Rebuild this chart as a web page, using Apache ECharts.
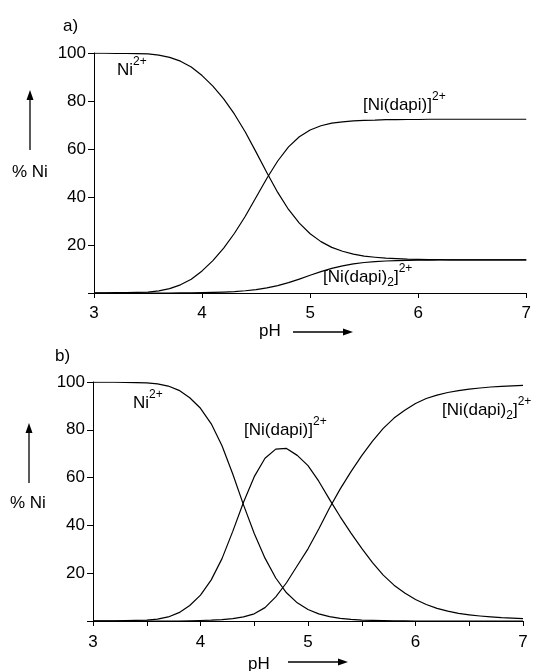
<!DOCTYPE html>
<html>
<head>
<meta charset="utf-8">
<script src="https://cdn.jsdelivr.net/npm/echarts@6/dist/echarts.min.js"></script>
<style>
html,body{margin:0;padding:0;background:#fff;}
#chart{width:534px;height:671px;}
</style>
</head>
<body>
<div id="chart"></div>
<script>
// pH values (x)
const pH = [3.0,3.1,3.2,3.3,3.4,3.5,3.6,3.7,3.8,3.9,
            4.0,4.1,4.2,4.3,4.4,4.5,4.6,4.7,4.8,4.9,
            5.0,5.1,5.2,5.3,5.4,5.5,5.6,5.7,5.8,5.9,
            6.0,6.1,6.2,6.3,6.4,6.5,6.6,6.7,6.8,6.9,7.0];

// panel a)
const aNi   = [99.9,99.9,99.8,99.8,99.7,99.6,99.1,98.2,96.6,94.2,
               90.6,86.2,80.9,74.5,67.1,58.7,50.1,41.9,34.8,29.1,
               24.7,21.4,19.0,17.4,16.2,15.4,14.9,14.5,14.3,14.1,
               14.0,13.9,13.9,13.8,13.8,13.8,13.8,13.8,13.8,13.8,13.8];
const aNiL  = [0.1,0.1,0.2,0.2,0.3,0.4,0.9,1.8,3.4,5.7,
               9.2,13.5,18.7,24.9,32.0,39.9,47.8,55.0,60.9,65.1,
               67.9,69.7,70.8,71.3,71.7,71.9,72.0,72.2,72.2,72.3,
               72.3,72.4,72.4,72.4,72.4,72.4,72.4,72.4,72.4,72.4,72.4];
const aNiL2 = [0,0,0,0,0,0,0,0,0.05,0.1,
               0.16,0.25,0.39,0.6,0.93,1.42,2.12,3.09,4.33,5.8,
               7.38,8.9,10.24,11.32,12.13,12.7,13.08,13.33,13.5,13.61,
               13.67,13.72,13.75,13.77,13.78,13.8,13.8,13.8,13.8,13.8,13.8];

// panel b)
const bNi   = [99.9,99.9,99.9,99.8,99.7,99.6,99.2,98.3,96.5,93.4,
               89.0,82.5,73.3,61.5,48.6,36.6,26.3,18.0,11.8,7.6,
               4.8,3.0,1.8,1.1,0.7,0.4,0.25,0.15,0.1,0.05,
               0,0,0,0,0,0,0,0,0,0,0];
const bNiL  = [0.1,0.1,0.1,0.2,0.3,0.4,0.8,1.7,3.5,6.5,
               10.8,17.2,26.1,37.5,49.7,60.4,68.1,71.9,72.2,69.3,
               65.0,58.5,50.9,43.6,36.8,30.4,24.4,19.2,15.0,11.7,
               9.0,6.9,5.3,4.1,3.2,2.6,2.1,1.7,1.4,1.2,1.0];
const bNiL2 = [0,0,0,0,0,0,0,0,0,0.1,
               0.2,0.35,0.6,1.0,1.7,3.0,5.6,10.1,16.0,23.1,
               30.2,38.5,47.3,55.3,62.5,69.2,75.3,80.6,84.9,88.2,
               91.0,93.1,94.5,95.6,96.4,97.0,97.5,97.9,98.2,98.4,98.6];

const yTicks = [0,20,40,60,80,100];

const FONT = '"Liberation Sans", Arial, Helvetica, sans-serif';
const chart = echarts.init(document.getElementById('chart'), null, {renderer:'canvas'});

function xAx(grid, interval){
  return {
    gridIndex: grid, type:'value', min:3, max:7, interval: interval,
    axisLine:{show:true, onZero:false, lineStyle:{color:'#000', width:1}},
    axisTick:{show:true, inside:false, length:5, lineStyle:{color:'#000', width:1}},
    axisLabel:{show:true, color:'#000', fontSize:17, fontFamily:FONT, margin: grid===0?12:13,
      showMinLabel:true, showMaxLabel:true,
      formatter: v => (Math.abs(v - Math.round(v)) < 1e-6) ? String(Math.round(v)) : ''},
    splitLine:{show:false}
  };
}
function yAx(grid){
  return {
    gridIndex: grid, type:'value', min:yTicks[0], max:yTicks[yTicks.length-1], interval:20,
    axisLine:{show:true, onZero:false, lineStyle:{color:'#000', width:1}},
    axisTick:{show:true, inside:false, length:6, lineStyle:{color:'#000', width:1}},
    axisLabel:{show:true, color:'#000', fontSize:17, fontFamily:FONT, margin:8,
      showMinLabel:true, showMaxLabel:true,
      formatter: v => v === 0 ? '' : String(v)},
    splitLine:{show:false}
  };
}
function ser(xi, arr){
  return {
    type:'line', xAxisIndex:xi, yAxisIndex:xi,
    data: pH.map((x,i)=>[x, arr[i]]),
    showSymbol:false, symbol:'none', smooth:false,
    lineStyle:{color:'#000', width:1.2, join:'round'}, silent:true, z:3
  };
}

const rich = {
  b:{fontSize:17, fontFamily:FONT, fill:'#000', color:'#000', lineHeight:20},
  s:{fontSize:12, fontFamily:FONT, fill:'#000', color:'#000', lineHeight:12, padding:[0,0,16,0]},
  u:{fontSize:12, fontFamily:FONT, fill:'#000', color:'#000', lineHeight:12, padding:[12,0,0,0]}
};
function lbl(x, y, text){
  return {type:'text', x:x, y:y, silent:true,
    style:{text:text, rich:rich, fill:'#000', font:'17px '+FONT, verticalAlign:'top', align:'left'}};
}
function txt(x, y, text){
  return {type:'text', x:x, y:y, silent:true,
    style:{text:text, fill:'#000', font:'17px '+FONT, verticalAlign:'middle', align:'left'}};
}
function vArrow(x, y1, y2){ // tail y1, tip y2 (upwards)
  return [
    {type:'line', silent:true, shape:{x1:x, y1:y1, x2:x, y2:y2+8}, style:{stroke:'#000', lineWidth:1.3}},
    {type:'polygon', silent:true, shape:{points:[[x,y2],[x-3.5,y2+10],[x+3.5,y2+10]]}, style:{fill:'#000'}}
  ];
}
function hArrow(y, x1, x2){
  return [
    {type:'line', silent:true, shape:{x1:x1, y1:y, x2:x2-8, y2:y}, style:{stroke:'#000', lineWidth:1.3}},
    {type:'polygon', silent:true, shape:{points:[[x2,y],[x2-10,y-3.5],[x2-10,y+3.5]]}, style:{fill:'#000'}}
  ];
}

const graphics = [
  txt(63, 26, 'a)'),
  txt(55, 356, 'b)'),
  txt(12, 172, '% Ni'),
  txt(10, 503, '% Ni'),
  txt(259, 331, 'pH'),
  txt(248, 664, 'pH'),
  ...vArrow(30, 150, 90),
  ...vArrow(29, 483, 423),
  ...hArrow(332, 293, 353),
  ...hArrow(662, 288, 348),
  lbl(117, 60, '{b|Ni}{s|2+}'),
  lbl(363, 95, '{b|[Ni(dapi)]}{s|2+}'),
  lbl(323, 267, '{b|[Ni(dapi)}{u|2}{b|]}{s|2+}'),
  lbl(133, 393, '{b|Ni}{s|2+}'),
  lbl(244, 420, '{b|[Ni(dapi)]}{s|2+}'),
  lbl(442, 400, '{b|[Ni(dapi)}{u|2}{b|]}{s|2+}')
];

chart.setOption({
  animation:false,
  backgroundColor:'#fff',
  textStyle:{fontFamily:FONT, color:'#000'},
  grid:[
    {left:94, top:53, width:434, height:240, containLabel:false},
    {left:93, top:382, width:430, height:239, containLabel:false}
  ],
  xAxis:[xAx(0,1), xAx(1,0.5)],
  yAxis:[yAx(0), yAx(1)],
  series:[ser(0,aNi), ser(0,aNiL), ser(0,aNiL2), ser(1,bNi), ser(1,bNiL), ser(1,bNiL2)],
  graphic: graphics
});
</script>
</body>
</html>
